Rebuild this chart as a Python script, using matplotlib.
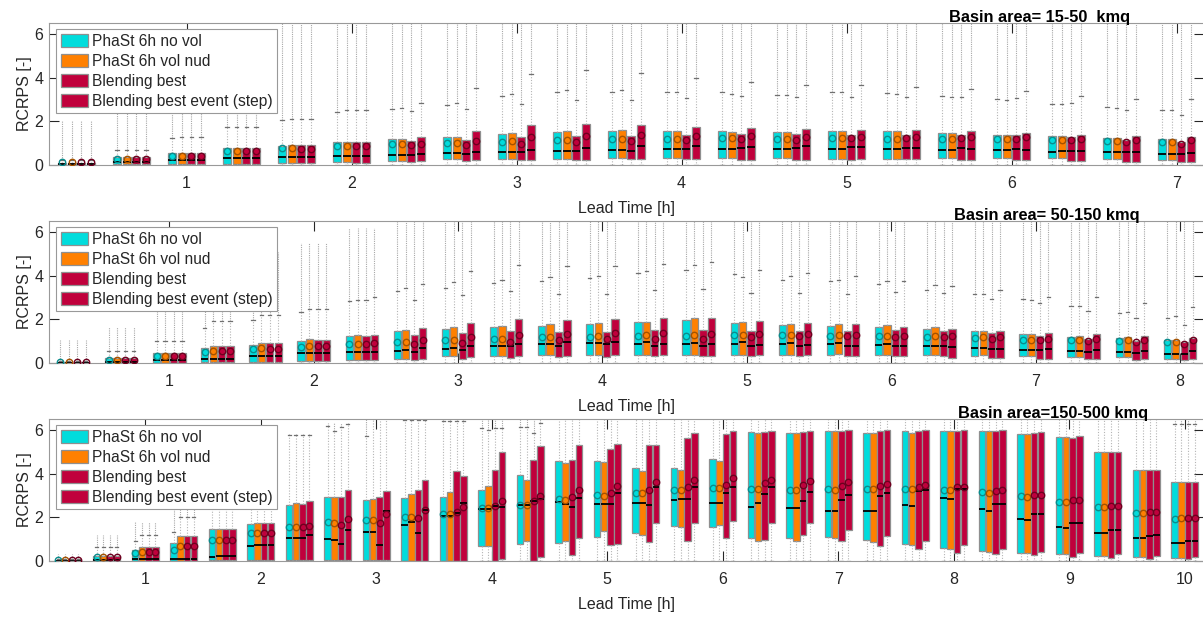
import matplotlib
matplotlib.use('Agg')
import matplotlib.pyplot as plt
from matplotlib.patches import Patch
import numpy as np

plt.rcParams['font.family'] = ['Liberation Sans', 'DejaVu Sans']

series_names = ['PhaSt 6h no vol', 'PhaSt 6h vol nud', 'Blending best', 'Blending best event (step)']
face_colors = ['#00DCDC', '#FF8000', '#C0003C', '#C0003C']
mean_colors = ['#0B8C8C', '#A45200', '#6E001F', '#6E001F']
titles = ['Basin area= 15-50  kmq', 'Basin area= 50-150 kmq', 'Basin area=150-500 kmq']
hours = [7, 8, 10]

# ---- panel 1: 15-50 kmq (lead times every 20 min up to 7 h) ----
# order of inner lists: no vol, vol nud, blending best, blending best event
p1_q1 = [
    [0, .03, .05, .05, .10, .12, .20, .26, .27, .27, .30, .30, .30, .30, .27, .27, .30, .33, .33, .26, .23],
    [0, .03, .05, .05, .10, .12, .20, .26, .27, .27, .30, .30, .30, .30, .27, .27, .30, .33, .33, .26, .23],
    [0, .03, .04, .05, .09, .11, .15, .18, .23, .23, .26, .26, .23, .23, .23, .26, .23, .23, .20, .15, .15],
    [0, .03, .04, .05, .09, .11, .17, .23, .23, .23, .26, .26, .23, .23, .26, .26, .23, .23, .20, .15, .15],
]
p1_q3 = [
    [.10, .35, .53, .76, .88, 1.04, 1.17, 1.26, 1.44, 1.52, 1.55, 1.55, 1.56, 1.52, 1.56, 1.55, 1.47, 1.39, 1.32, 1.24, 1.17],
    [.10, .35, .55, .78, .91, 1.06, 1.17, 1.29, 1.48, 1.56, 1.58, 1.55, 1.53, 1.50, 1.56, 1.55, 1.47, 1.39, 1.32, 1.24, 1.17],
    [.10, .35, .55, .78, .91, 1.06, 1.11, 1.14, 1.26, 1.35, 1.35, 1.39, 1.44, 1.41, 1.39, 1.39, 1.39, 1.36, 1.26, 1.14, 1.06],
    [.10, .35, .55, .78, .91, 1.06, 1.26, 1.55, 1.82, 1.88, 1.85, 1.76, 1.68, 1.67, 1.62, 1.59, 1.55, 1.47, 1.39, 1.35, 1.29],
]
p1_med = [
    [.03, .12, .21, .30, .38, .41, .48, .53, .58, .65, .68, .73, .73, .73, .73, .73, .68, .68, .61, .58, .50],
    [.03, .12, .21, .30, .38, .41, .48, .53, .58, .65, .68, .73, .73, .73, .73, .73, .70, .68, .64, .58, .50],
    [.03, .12, .21, .30, .38, .41, .45, .50, .58, .65, .65, .73, .76, .79, .82, .79, .79, .74, .65, .58, .50],
    [.03, .12, .21, .30, .38, .41, .50, .58, .68, .79, .88, .88, .83, .86, .82, .76, .73, .68, .64, .61, .56],
]
p1_mean = [
    [.12, .26, .41, .64, .76, .86, .95, 1.00, 1.06, 1.14, 1.18, 1.18, 1.24, 1.21, 1.24, 1.21, 1.20, 1.21, 1.14, 1.09, 1.06],
    [.12, .27, .43, .66, .78, .88, .95, 1.00, 1.09, 1.14, 1.18, 1.18, 1.24, 1.21, 1.24, 1.21, 1.20, 1.21, 1.14, 1.09, 1.06],
    [.12, .26, .41, .63, .75, .85, .90, .91, .95, 1.06, 1.09, 1.14, 1.17, 1.15, 1.24, 1.24, 1.24, 1.21, 1.14, 1.06, .98],
    [.12, .26, .41, .63, .75, .85, .98, 1.11, 1.26, 1.33, 1.36, 1.32, 1.32, 1.29, 1.29, 1.29, 1.29, 1.26, 1.17, 1.14, 1.14],
]
p1_cap = [
    [.25, .68, 1.25, 1.74, 2.05, 2.42, 2.58, 2.76, 3.14, 3.36, 3.36, 3.36, 3.36, 3.21, 3.36, 3.30, 3.18, 3.03, 2.80, 2.65, 2.53],
    [.25, .70, 1.27, 1.76, 2.12, 2.50, 2.60, 2.85, 3.24, 3.42, 3.42, 3.36, 3.27, 3.21, 3.36, 3.26, 3.10, 2.98, 2.80, 2.61, 2.53],
    [.25, .70, 1.27, 1.76, 2.12, 2.50, 2.47, 2.56, 2.79, 2.98, 2.98, 3.06, 3.14, 3.10, 3.10, 3.10, 3.10, 3.06, 2.83, 2.53, 2.30],
    [.25, .70, 1.27, 1.76, 2.12, 2.50, 2.83, 3.53, 4.17, 4.36, 4.21, 3.98, 3.82, 3.67, 3.67, 3.59, 3.48, 3.38, 3.18, 3.03, 3.00],
]
p1_top = [2.0, 3.4, 4.8, 6.1, 6.6, 6.6, 6.6, 6.6, 6.6, 6.6, 6.6, 6.6, 6.6, 6.6, 6.6, 6.6, 6.6, 6.6, 6.6, 6.6, 6.6]

# ---- panel 2: 50-150 kmq (up to 8 h) ----
p2_q1 = [
    [0, .01, .02, .03, .06, .10, .15, .20, .30, .30, .35, .38, .38, .38, .38, .38, .38, .38, .35, .30, .30, .26, .26, .20],
    [0, .01, .02, .03, .06, .10, .15, .20, .30, .30, .35, .38, .38, .38, .38, .38, .42, .38, .38, .35, .30, .26, .26, .20],
    [0, .01, .02, .03, .05, .08, .12, .15, .18, .23, .26, .27, .30, .30, .30, .30, .33, .30, .30, .23, .18, .18, .15, .12],
    [0, .01, .02, .03, .05, .08, .12, .18, .27, .30, .30, .38, .38, .30, .35, .35, .30, .30, .23, .23, .18, .18, .18, .18],
]
p2_q3 = [
    [.04, .24, .45, .68, .83, 1.02, 1.25, 1.47, 1.56, 1.64, 1.70, 1.77, 1.86, 1.97, 1.85, 1.74, 1.71, 1.67, 1.55, 1.47, 1.33, 1.21, 1.14, 1.03],
    [.04, .25, .46, .79, .91, 1.08, 1.27, 1.52, 1.64, 1.70, 1.79, 1.82, 1.89, 2.05, 1.86, 1.79, 1.79, 1.74, 1.64, 1.47, 1.32, 1.24, 1.17, 1.06],
    [.04, .25, .46, .79, .91, 1.07, 1.25, 1.26, 1.36, 1.47, 1.44, 1.44, 1.52, 1.52, 1.48, 1.45, 1.47, 1.52, 1.47, 1.36, 1.24, 1.09, 1.02, .95],
    [.04, .25, .46, .79, .91, 1.07, 1.30, 1.59, 1.85, 2.00, 1.97, 2.00, 2.05, 2.08, 1.94, 1.85, 1.79, 1.67, 1.55, 1.47, 1.39, 1.32, 1.24, 1.14],
]
p2_med = [
    [.01, .06, .12, .18, .30, .44, .50, .55, .65, .79, .88, .91, .88, .88, .88, .86, .86, .83, .79, .68, .60, .53, .50, .42],
    [.01, .06, .12, .20, .33, .45, .50, .60, .68, .80, .88, .91, .94, .91, .94, .91, .91, .88, .80, .68, .58, .55, .50, .42],
    [.01, .06, .12, .20, .33, .45, .50, .50, .60, .76, .80, .86, .76, .76, .79, .79, .79, .79, .79, .65, .58, .50, .45, .41],
    [.01, .06, .12, .20, .33, .45, .52, .68, .79, .88, .95, .95, .88, .88, .83, .83, .79, .79, .71, .65, .64, .60, .56, .53],
]
p2_mean = [
    [.05, .15, .31, .50, .62, .75, .86, .97, 1.03, 1.09, 1.17, 1.21, 1.24, 1.24, 1.26, 1.26, 1.24, 1.24, 1.21, 1.14, 1.06, 1.05, 1.00, .94],
    [.05, .15, .32, .55, .67, .79, .88, .98, 1.03, 1.12, 1.18, 1.24, 1.26, 1.27, 1.26, 1.26, 1.29, 1.24, 1.24, 1.17, 1.06, 1.06, 1.05, .97],
    [.05, .15, .32, .55, .66, .78, .87, .88, .91, .98, 1.03, 1.09, 1.11, 1.11, 1.21, 1.24, 1.24, 1.21, 1.21, 1.09, 1.03, 1.00, .94, .89],
    [.05, .15, .32, .55, .66, .78, .90, 1.06, 1.20, 1.29, 1.33, 1.36, 1.36, 1.33, 1.32, 1.33, 1.29, 1.24, 1.24, 1.17, 1.09, 1.09, 1.06, 1.06],
]
p2_cap = [
    [.10, .55, 1.00, 1.60, 1.95, 2.35, 2.85, 3.30, 3.45, 3.67, 3.74, 3.90, 4.12, 4.27, 4.06, 3.82, 3.76, 3.60, 3.36, 3.18, 2.91, 2.60, 2.30, 2.05],
    [.10, .55, 1.00, 1.90, 2.20, 2.45, 2.90, 3.45, 3.70, 3.79, 3.94, 3.97, 4.20, 4.47, 3.94, 3.97, 3.82, 3.74, 3.56, 3.15, 2.88, 2.60, 2.35, 2.15],
    [.10, .55, 1.00, 1.90, 2.20, 2.45, 2.90, 2.90, 3.10, 3.29, 3.18, 3.18, 3.33, 3.41, 3.20, 3.20, 3.14, 3.26, 3.21, 2.92, 2.76, 2.38, 2.05, 1.74],
    [.10, .55, 1.00, 1.90, 2.20, 2.45, 3.00, 3.60, 4.20, 4.50, 4.42, 4.42, 4.55, 4.62, 4.24, 4.10, 3.97, 3.76, 3.52, 3.33, 3.00, 3.00, 2.76, 2.58],
]
p2_top = [1.05, 1.65, 2.6, 4.5, 5.1, 5.5, 6.2, 6.6, 6.6, 6.6, 6.6, 6.6, 6.6, 6.6, 6.6, 6.6, 6.6, 6.6, 6.6, 6.6, 6.6, 6.6, 6.6, 6.6]

# ---- panel 3: 150-500 kmq (up to 10 h) ----
p3_q1 = [
    [0, .005, .01, .02, .03, .04, .05, .05, .05, .02, .02, .70, .77, .82, 1.09, 1.26, 1.58, 1.55, 1.03, 1.03, 1.11, .96, .76, .61, .46, .38, .30, .23, .20, .15],
    [0, .005, .01, .02, .03, .04, .05, .05, .05, .02, .02, .70, .90, .93, 1.39, 1.19, 1.55, 1.63, .93, .90, 1.03, .87, .71, .56, .43, .35, .30, .23, .20, .15],
    [0, .005, .01, .02, .03, .04, .05, .05, .05, .02, .02, .02, .02, .28, .74, .85, .93, 1.03, .98, 1.17, .91, .68, .53, .38, .30, .26, .20, .15, .10, .08],
    [0, .005, .01, .02, .03, .04, .05, .05, .05, .02, .02, .08, .20, 1.03, .77, 1.75, 1.76, 1.85, 1.75, 1.75, 1.40, 1.14, .91, .71, .56, .43, .35, .30, .23, .18],
]
p3_q3 = [
    [.02, .24, .52, .83, 1.48, 1.68, 2.58, 2.92, 2.79, 2.89, 2.94, 3.24, 3.95, 4.59, 4.59, 4.26, 4.26, 4.67, 5.89, 5.85, 5.96, 5.88, 5.96, 5.96, 5.96, 5.82, 5.67, 4.97, 4.15, 3.60],
    [.02, .24, .66, 1.15, 1.48, 1.73, 2.64, 2.92, 2.86, 3.08, 3.15, 3.42, 3.73, 4.48, 4.53, 4.14, 4.15, 4.59, 5.85, 5.85, 5.96, 5.88, 5.88, 5.96, 5.96, 5.82, 5.67, 4.97, 4.15, 3.60],
    [.02, .24, .66, 1.15, 1.48, 1.73, 2.62, 2.92, 2.94, 3.24, 4.10, 4.18, 4.64, 4.62, 5.12, 5.32, 5.62, 5.82, 5.89, 5.90, 5.96, 5.93, 5.96, 5.93, 5.93, 5.85, 5.65, 4.97, 4.15, 3.60],
    [.02, .24, .66, 1.15, 1.48, 1.73, 2.73, 3.24, 3.20, 3.73, 3.88, 4.98, 5.27, 5.32, 5.36, 5.32, 5.85, 5.97, 5.95, 5.97, 6.00, 6.00, 6.00, 6.00, 6.00, 5.90, 5.70, 4.97, 4.15, 3.60],
]
p3_med = [
    [.005, .05, .09, .08, .17, .70, 1.03, 1.00, 1.35, 1.65, 2.06, 2.38, 2.55, 2.70, 2.62, 2.67, 2.80, 2.64, 2.47, 2.44, 2.28, 2.28, 2.58, 2.89, 2.36, 1.90, 1.57, 1.29, 1.06, .84],
    [.005, .05, .09, .08, .21, .74, 1.03, .97, 1.33, 1.79, 2.06, 2.38, 2.55, 2.62, 2.59, 2.67, 2.82, 2.64, 2.67, 2.41, 2.28, 2.28, 2.54, 2.84, 2.31, 1.87, 1.52, 1.26, 1.06, .84],
    [.005, .05, .09, .08, .21, .74, 1.03, .80, .75, 1.27, 2.20, 2.50, 2.76, 2.45, 2.59, 2.56, 2.82, 3.09, 3.08, 2.74, 2.77, 2.96, 3.22, 3.30, 2.61, 2.13, 1.72, 1.40, 1.14, .91],
    [.005, .05, .09, .08, .21, .74, 1.18, 1.42, 2.30, 2.35, 2.64, 2.48, 2.82, 2.89, 3.12, 3.39, 3.39, 3.38, 3.39, 3.15, 3.01, 3.12, 3.27, 3.30, 2.63, 2.13, 1.72, 1.41, 1.17, .91],
]
p3_mean = [
    [.04, .17, .37, .50, .97, 1.27, 1.56, 1.79, 1.88, 2.03, 2.17, 2.42, 2.58, 2.82, 3.00, 3.12, 3.24, 3.32, 3.30, 3.27, 3.30, 3.30, 3.30, 3.27, 3.15, 2.96, 2.70, 2.48, 2.20, 1.93],
    [.04, .17, .43, .68, .97, 1.27, 1.56, 1.76, 1.88, 2.03, 2.14, 2.42, 2.55, 2.79, 2.97, 3.09, 3.24, 3.32, 3.30, 3.27, 3.27, 3.30, 3.30, 3.27, 3.12, 2.93, 2.70, 2.48, 2.20, 1.96],
    [.04, .17, .43, .68, .97, 1.27, 1.56, 1.64, 1.76, 1.98, 2.26, 2.52, 2.76, 2.92, 3.09, 3.27, 3.39, 3.50, 3.55, 3.50, 3.45, 3.42, 3.39, 3.37, 3.22, 3.00, 2.77, 2.51, 2.23, 1.98],
    [.04, .17, .43, .68, .97, 1.27, 1.60, 1.94, 2.15, 2.33, 2.48, 2.73, 2.97, 3.24, 3.42, 3.62, 3.73, 3.80, 3.73, 3.68, 3.62, 3.54, 3.50, 3.39, 3.27, 3.04, 2.81, 2.54, 2.25, 1.98],
]
p3_cap = [
    [.10, .62, .92, 1.35, 3.70, 4.20, 5.77, 6.18, 5.73, 6.45, 6.40, 6.10, 6.15, 6.6, 6.6, 6.6, 6.6, 6.6, 6.6, 6.6, 6.6, 6.6, 6.6, 6.6, 6.6, 6.6, 6.6, 6.6, 6.6, 6.28],
    [.10, .62, 1.20, 2.00, 3.70, 4.20, 5.77, 5.97, 6.6, 6.45, 6.40, 6.00, 6.15, 6.6, 6.6, 6.6, 6.6, 6.6, 6.6, 6.6, 6.6, 6.6, 6.6, 6.6, 6.6, 6.6, 6.6, 6.6, 6.6, 6.28],
    [.10, .62, 1.20, 2.00, 3.70, 4.20, 5.77, 6.15, 6.6, 6.45, 6.40, 6.10, 5.85, 6.6, 6.6, 6.6, 6.6, 6.6, 6.6, 6.6, 6.6, 6.6, 6.6, 6.6, 6.6, 6.6, 6.6, 6.6, 6.6, 6.28],
    [.10, .62, 1.20, 2.00, 3.70, 4.20, 5.77, 6.26, 6.6, 6.45, 6.40, 6.10, 6.30, 6.6, 6.6, 6.6, 6.6, 6.6, 6.6, 6.6, 6.6, 6.6, 6.6, 6.6, 6.6, 6.6, 6.6, 6.6, 6.6, 6.28],
]
p3_top = [0.3, 1.2, 1.8, 2.6, 5.7, 5.7, 5.8, 6.3, 6.6, 6.6, 6.6, 6.6, 6.6, 6.6, 6.6, 6.6, 6.6, 6.6, 6.6, 6.6, 6.6, 6.6, 6.6, 6.6, 6.6, 6.6, 6.6, 6.6, 6.6, 6.6]

panels = [
    (p1_q1, p1_q3, p1_med, p1_mean, p1_cap, p1_top),
    (p2_q1, p2_q3, p2_med, p2_mean, p2_cap, p2_top),
    (p3_q1, p3_q3, p3_med, p3_mean, p3_cap, p3_top),
]
box_widths = [0.14 / 3, 0.15 / 3, 0.165 / 3]
title_x = [0.858, 0.864, 0.869]

W, H = 1203, 617
fig = plt.figure(figsize=(W / 100, H / 100), dpi=100)
ax_tops = [23, 221, 419]
ax_h = 142

axes_color = '#999999'
text_color = '#262626'

for p, (q1, q3, med, mean, cap, top) in enumerate(panels):
    ax = fig.add_axes([49 / W, 1 - (ax_tops[p] + ax_h) / H, 1155 / W, ax_h / H])
    n = len(top)
    centers = np.arange(1, n + 1) / 3
    step = 0.175 / 3
    w = box_widths[p]
    for s in range(4):
        pos = centers + (s - 1.5) * step
        stats = []
        for i in range(n):
            stats.append(dict(q1=q1[s][i], q3=q3[s][i], med=med[s][i], mean=mean[s][i],
                              whislo=0.0, whishi=cap[s][i], fliers=[]))
        ax.bxp(stats, positions=pos, widths=w, patch_artist=True, showmeans=True,
               showfliers=False, manage_ticks=False, capwidths=w * 0.45,
               boxprops=dict(facecolor=face_colors[s], edgecolor='#8f8f8f', linewidth=0.9),
               medianprops=dict(color='black', linewidth=1.3),
               meanprops=dict(marker='o', markerfacecolor='none', markeredgecolor=mean_colors[s],
                              markersize=4.6, markeredgewidth=1.0, zorder=4),
               whiskerprops=dict(color='#b5b5b5', linestyle=(0, (1, 1.5)), linewidth=0.8),
               capprops=dict(color='#707070', linewidth=0.9))
        # outlier columns above the upper whisker
        xs = [pos[i] for i in range(n) if top[i] > cap[s][i]]
        lo = [cap[s][i] for i in range(n) if top[i] > cap[s][i]]
        hi = [top[i] for i in range(n) if top[i] > cap[s][i]]
        ax.vlines(xs, lo, hi, colors='#a8a8a8', linestyles=(0, (1, 1)), linewidth=0.8, zorder=1.5)

    ax.set_xlim(1 / 6, n / 3 + 1 / 6)
    ax.set_ylim(0, 6.5)
    ax.set_xticks(range(1, hours[p] + 1))
    ax.set_xticklabels([str(h) for h in range(1, hours[p] + 1)])
    ax.set_yticks([0, 2, 4, 6])
    ax.tick_params(direction='in', top=True, right=True, length=7, width=0.8,
                   color=text_color, labelsize=11.5, labelcolor=text_color)
    ax.tick_params(axis='x', pad=8)
    ax.tick_params(axis='y', pad=4)
    for sp in ax.spines.values():
        sp.set_color(axes_color)
        sp.set_linewidth(0.8)
    ax.set_ylabel('RCRPS [-]', fontsize=11.5, color=text_color, labelpad=2)
    ax.set_xlabel('Lead Time [h]', fontsize=11.5, color=text_color, labelpad=7)
    ax.text(title_x[p], 1.004, titles[p], transform=ax.transAxes, ha='center', va='baseline',
            fontsize=11.8, fontweight='bold', color='black')

    handles = [Patch(facecolor=face_colors[s], edgecolor='#8f8f8f', linewidth=0.9, label=series_names[s])
               for s in range(4)]
    leg = ax.legend(handles=handles, loc='upper left', bbox_to_anchor=(0.006, 0.958),
                    borderaxespad=0, fontsize=11.2, frameon=True, fancybox=False,
                    handlelength=1.75, handleheight=0.95, handletextpad=0.25,
                    labelspacing=0.32, borderpad=0.3)
    leg.get_frame().set_edgecolor('#999999')
    leg.get_frame().set_linewidth(0.8)
    leg.get_frame().set_alpha(1)
    for t in leg.get_texts():
        t.set_color(text_color)

fig.savefig('out.png', dpi=100)
